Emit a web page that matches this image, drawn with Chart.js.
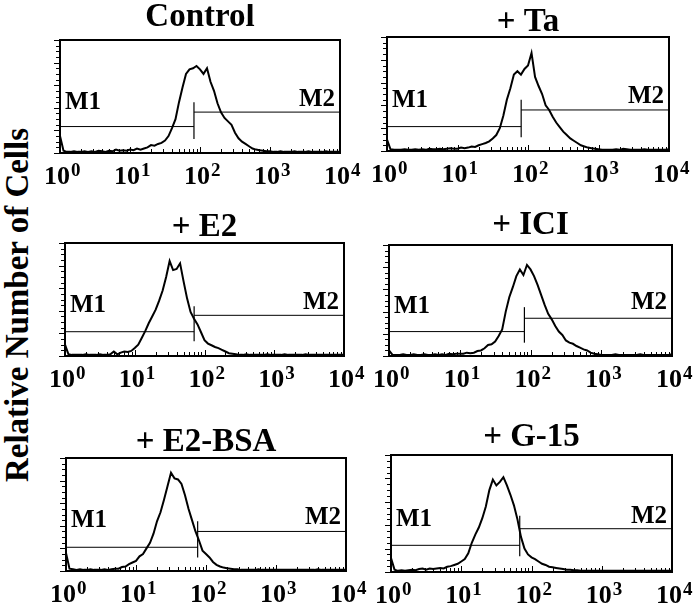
<!DOCTYPE html>
<html><head><meta charset="utf-8">
<script src="https://cdn.jsdelivr.net/npm/chart.js@4/dist/chart.umd.min.js"></script>
<style>
html,body{margin:0;padding:0;background:#fff;}
#wrap{position:relative;width:694px;height:610px;overflow:hidden;background:#fff;}
canvas{position:absolute;}
#ytitle{position:absolute;left:17px;top:305px;transform:translate(-50%,-50%) rotate(-90deg);font:bold 33px "Liberation Serif","Times New Roman",serif;white-space:nowrap;color:#000;}
</style></head><body>
<div id="wrap"><div id="ytitle">Relative Number of Cells</div></div>
<script>
// ---------- DATA ----------
// channel positions in decades (log10 of fluorescence)
const logChannel = [0,0.05,0.1,0.15,0.2,0.25,0.3,0.35,0.4,0.45,0.5,0.55,0.6,0.65,0.7,0.75,0.8,0.85,0.9,0.95,
  1,1.05,1.1,1.15,1.2,1.25,1.3,1.35,1.4,1.45,1.5,1.55,1.6,1.65,1.7,1.75,1.8,1.85,1.9,1.95,
  2,2.05,2.1,2.15,2.2,2.25,2.3,2.35,2.4,2.45,2.5,2.55,2.6,2.65,2.7,2.75,2.8,2.85,2.9,2.95,
  3,3.05,3.1,3.15,3.2,3.25,3.3,3.35,3.4,3.45,3.5,3.55,3.6,3.65,3.7,3.75,3.8,3.85,3.9,3.95,4];

const panelTitles = ['Control', '+ Ta', '+ E2', '+ ICI', '+ E2-BSA', '+ G-15'];

const countsControl = [15,2,1,1,1.5,1,1,1.5,1,1.5,1,2,1.5,1,2,1.5,3,2,2.5,2,
  3,2.5,4,3,4,5,7,6.5,8,9,11,15,22,30,45,58,70,74,75,77,
  74,70,75,63,55,44,36,31,28,25,18,13,10,8,6,4,3,2.5,2,1.5,
  1.5,1,1,1.5,1,1,1,1.5,1,1,1,1.5,1,1,1,1,1.5,1,1,1,1];
const countsTa = [10,1.5,1,1,1,1.5,1,1,1.5,1,1.5,1,2,1.5,1.5,2,1.5,2,2.5,2,
  2,3,2.5,3,4,3.5,5,6,7,8.5,11,14,20,31,45,55,67,70,67,72,
  75,86,65,57,50,40,36,30,25,21,17,14,11,9,7,5,4,3,2.5,2,
  1.5,1,1,1,1,1.5,1,2,1.5,1,1,1,1,1.5,1,1,1,1,1,1,1.5];
const countsE2 = [10,1.5,1,1,1,1,1.5,1,1,1,1.5,1,1,1.5,4,1.5,3,4,3.5,4.5,
  7,10,16,22,29,35,41,49,58,70,84,76,77,82,66,51,39,33,28,21,
  14,11,9.5,8,7,5.5,4,2.5,2,1.5,1,1,1.5,1,1,1,1,1,1.5,1,
  1,1,1,1.5,1,1,1,1,1,1.5,1,1,1,1,1,1,1,1,1,1,1];
const countsICI = [5,1,1,1,1.5,1,1,1.5,1,1,1.5,1,1,1.5,1,1.5,1,2,1.5,2,
  2,2,3,2.5,3,4.5,5,7,10,10.5,13,18,24,40,53,62,72,78,73,82,
  78,72,64,55,46,38,33,27,22,19,14,12,11,9,7.5,6,5,3,2,1.5,
  1,1,1,1,1.5,1,1,1,1,1,1,1.5,1,1,1,1,1,1,1,1,1.5];
const countsE2BSA = [16,2,1.5,1,1.5,1,1,1.5,1,1,1,1.5,1,1.5,2,2,3.5,4,6,7.5,
  9,13,15,20,25,33,44,52,63,75,87,82,81,77,67,55,45,35,27,18,
  15,12,8,5.5,4,3,2.5,2,1.5,1.5,1,1,1,1,1,1.5,1,1,1,1,
  1,1,1,1,1,1,1,1,1,1,1,1,1.5,1,1,1,1,1,1,1,1];
const countsG15 = [12,2,1,1.5,1,1.5,2,1.5,2.5,3,2,3,2.5,3,3.5,3,4.5,5,6,7,
  9,11,16,25,32,38,46,56,70,79,74,77,81,74,66,57,45,30,20,15,
  12.5,11,9,7,6,4.5,4,3.5,3,2.5,2,2,1.5,1.5,1,1,1,1,1,1,
  1,1,1,1,1,1,1,1,1,1,1,1,1,1,1,1,1,1,1,1,1];
const panelCounts = [countsControl, countsTa, countsE2, countsICI, countsE2BSA, countsG15];

// marker gates (M1 | M2 boundary), and bar levels (relative %)
const gateValues = [82, 80, 71, 82, 76, 68];
const m1Levels   = [23.4, 21.4, 21.5, 22, 21, 22.8];
const m2Levels   = [36.2, 36, 36, 34, 35, 37];
const gateLow    = [12.5, 12, 13, 12, 12, 13.5];
const gateHigh   = [45, 45, 44, 44, 44, 48];
const markerNames = ['M1', 'M2'];

const tickValues    = [1, 10, 100, 1000, 10000];
const tickBases     = ['10', '10', '10', '10', '10'];
const tickExponents = ['0', '1', '2', '3', '4'];

// ---------- LAYOUT (pixels, not data) ----------
const panelBoxes = [
  {l:60, t:40, r:340, b:153, tx:202, ty:17},
  {l:387,t:37, r:669, b:151, tx:532, ty:22},
  {l:65, t:243,r:344, b:356, tx:191, ty:227},
  {l:389,t:245,r:672, b:356, tx:513, ty:225},
  {l:66, t:458,r:346, b:571, tx:208, ty:442},
  {l:391,t:455,r:672, b:572, tx:520, ty:437}
];
const SERIF = '"Liberation Serif","Times New Roman",serif';
const TITLE_SIZE = 33, TITLE_LH = 0.8, XAXIS_H = 42, BASE_PAD = 30;
const M_FONT = 'bold 25px ' + SERIF;
const EXP_FONT = 'bold 19px ' + SERIF;
const LABEL_OFFSET = -3;

const decorPlugin = {
  id: 'panelDecor',
  afterDraw(chart) {
    const {ctx, chartArea: a, scales} = chart;
    const xs = scales.x, ys = scales.y;
    ctx.save();
    ctx.strokeStyle = '#000';
    ctx.fillStyle = '#000';
    // frame
    ctx.lineWidth = 2;
    ctx.strokeRect(a.left, a.top, a.right - a.left, a.bottom - a.top);
    // y ticks outside left
    ctx.lineWidth = 1;
    ctx.beginPath();
    for (let v = 0; v <= 100; v += 5) {
      const y = Math.round(ys.getPixelForValue(v)) + 0.5;
      const len = (v % 20 === 0) ? 6 : 4;
      ctx.moveTo(a.left - len, y); ctx.lineTo(a.left, y);
    }
    ctx.stroke();
    // x log ticks inside bottom
    ctx.beginPath();
    for (let p = 0; p < 4; p++) {
      for (let k = 1; k <= 9; k++) {
        const v = k * Math.pow(10, p);
        const x = Math.round(xs.getPixelForValue(v)) + 0.5;
        const len = (k === 1) ? 6 : 4;
        ctx.moveTo(x, a.bottom); ctx.lineTo(x, a.bottom - len);
      }
    }
    ctx.stroke();
    // exponents of the decade tick labels
    ctx.font = EXP_FONT;
    ctx.textAlign = 'left';
    ctx.textBaseline = 'alphabetic';
    tickValues.forEach((v, k) => {
      const x = xs.getPixelForValue(v) + LABEL_OFFSET + 14;
      ctx.fillText(tickExponents[k], x, a.bottom + 23);
    });
    // marker labels
    ctx.font = M_FONT;
    ctx.textAlign = 'left';
    ctx.fillText(markerNames[0], a.left + 5, ys.getPixelForValue(39));
    ctx.textAlign = 'right';
    ctx.fillText(markerNames[1], a.right - 5, ys.getPixelForValue(42));
    ctx.restore();
  }
};

const wrap = document.getElementById('wrap');
panelBoxes.forEach((bx, i) => {
  const diff = 2 * bx.tx - bx.l - bx.r;
  const padL = diff < 0 ? BASE_PAD - diff : BASE_PAD;
  const padR = diff > 0 ? BASE_PAD + diff : BASE_PAD;
  const top = Math.round(bx.ty - TITLE_SIZE * TITLE_LH / 2);
  const titlePadBottom = bx.t - top - TITLE_SIZE * TITLE_LH;
  const W = padL + (bx.r - bx.l) + padR;
  const H = (bx.b - top) + XAXIS_H;
  const cv = document.createElement('canvas');
  cv.width = W; cv.height = H;
  cv.style.left = (bx.l - padL) + 'px';
  cv.style.top = top + 'px';
  cv.style.width = W + 'px'; cv.style.height = H + 'px';
  wrap.appendChild(cv);

  const counts = panelCounts[i];
  const g = gateValues[i];
  const lineDs = (data, w) => ({data, borderColor:'#000', borderWidth:w, pointRadius:0, tension:0, fill:false});
  new Chart(cv, {
    type: 'line',
    data: {
      datasets: [
        Object.assign(lineDs(logChannel.map((d, j) => ({x: Math.pow(10, d), y: counts[j]})), 2), {label: panelTitles[i]}),
        Object.assign(lineDs([{x:1, y:m1Levels[i]}, {x:g, y:m1Levels[i]}], 1), {label: 'M1'}),
        Object.assign(lineDs([{x:g, y:m2Levels[i]}, {x:10000, y:m2Levels[i]}], 1), {label: 'M2'}),
        Object.assign(lineDs([{x:g, y:gateLow[i]}, {x:g, y:gateHigh[i]}], 1.2), {label: 'gate'})
      ]
    },
    options: {
      responsive: false,
      animation: false,
      devicePixelRatio: 1,
      layout: {padding: {left: padL, right: padR, top: 0, bottom: 0}},
      plugins: {
        legend: {display: false},
        tooltip: {enabled: false},
        title: {
          display: true, text: panelTitles[i], color: '#000',
          font: {family: SERIF, size: TITLE_SIZE, weight: 'bold', lineHeight: TITLE_LH},
          padding: {top: 0, bottom: titlePadBottom}
        }
      },
      scales: {
        x: {
          type: 'logarithmic', min: 1, max: 10000,
          afterBuildTicks: s => { s.ticks = tickValues.map(v => ({value: v})); },
          afterFit: s => { s.height = XAXIS_H; },
          grid: {display: false, drawTicks: false},
          border: {display: false},
          ticks: {
            callback: (v, idx) => tickBases[idx],
            color: '#000', autoSkip: false, maxRotation: 0, padding: 9, labelOffset: LABEL_OFFSET,
            font: {family: SERIF, size: 26, weight: 'bold'}
          }
        },
        y: {type: 'linear', min: 0, max: 100, display: false}
      }
    },
    plugins: [decorPlugin]
  });
});
</script>
</body></html>
